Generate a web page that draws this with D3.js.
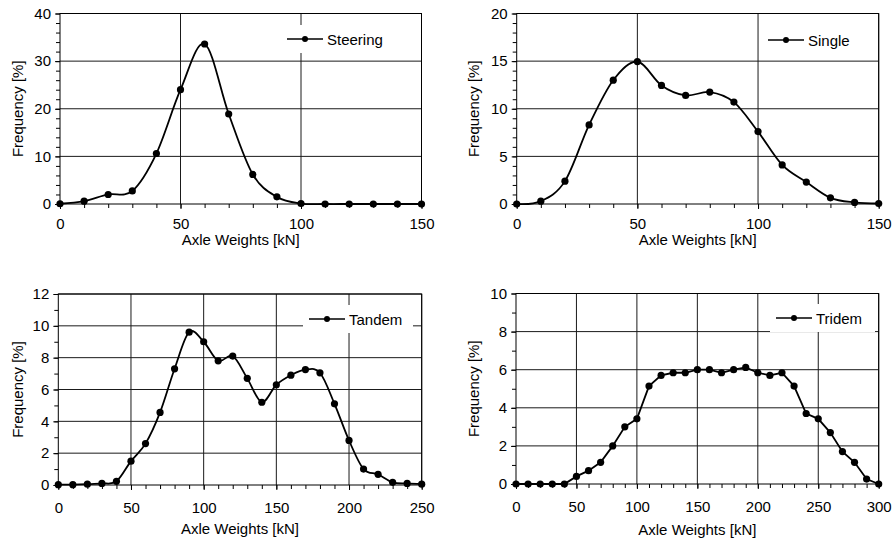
<!DOCTYPE html>
<html>
<head>
<meta charset="utf-8">
<script src="https://cdn.jsdelivr.net/npm/d3@7"></script>
<style>
  html, body { margin: 0; padding: 0; background: #fff; }
  svg { display: block; }
  text { font-family: "Liberation Sans", Arial, sans-serif; fill: #000; }
</style>
</head>
<body>
<div id="chart"></div>
<script>
/*---------- DATA ----------*/
// Axle weight classes [kN]
let weights150 = [0, 10, 20, 30, 40, 50, 60, 70, 80, 90, 100, 110, 120, 130, 140, 150];
let weights250 = [0, 10, 20, 30, 40, 50, 60, 70, 80, 90, 100, 110, 120, 130, 140, 150,
  160, 170, 180, 190, 200, 210, 220, 230, 240, 250];
let weights300 = [0, 10, 20, 30, 40, 50, 60, 70, 80, 90, 100, 110, 120, 130, 140, 150,
  160, 170, 180, 190, 200, 210, 220, 230, 240, 250, 260, 270, 280, 290, 300];

// Frequencies [%]
let steeringFreq = [0.05, 0.6, 2.0, 2.75, 10.6, 24.0, 33.6, 18.9, 6.2, 1.5, 0.1, 0, 0, 0, 0, 0];
let singleFreq = [0, 0.3, 2.4, 8.3, 13.0, 14.95, 12.45, 11.4, 11.75, 10.7, 7.6, 4.1, 2.3, 0.65, 0.17, 0.05];
let tandemFreq = [0.02, 0.02, 0.05, 0.1, 0.23, 1.5, 2.6, 4.56, 7.3, 9.6, 9.0, 7.8, 8.1, 6.7, 5.2,
  6.3, 6.9, 7.25, 7.05, 5.1, 2.8, 1.0, 0.67, 0.17, 0.1, 0.05];
let tridemFreq = [0, 0, 0, 0, 0, 0.4, 0.7, 1.14, 2.0, 3.0, 3.42, 5.14, 5.7, 5.84, 5.84, 6.0,
  6.0, 5.84, 6.0, 6.12, 5.84, 5.7, 5.84, 5.14, 3.7, 3.42, 2.7, 1.7, 1.14, 0.26, 0];

// Tick labels
let xTicks150 = [0, 50, 100, 150];
let xTicks250 = [0, 50, 100, 150, 200, 250];
let xTicks300 = [0, 50, 100, 150, 200, 250, 300];
let yTicksSteering = [0, 10, 20, 30, 40];
let yTicksSingle = [0, 5, 10, 15, 20];
let yTicksTandem = [0, 2, 4, 6, 8, 10, 12];
let yTicksTridem = [0, 2, 4, 6, 8, 10];

let seriesNames = ["Steering", "Single", "Tandem", "Tridem"];
let xTitle = "Axle Weights [kN]";
let yTitle = "Frequency [%]";

/*---------- SETUP ----------*/
const width = 892;
const height = 538;

let svg = d3
  .select("#chart")
  .append("svg")
  .attr("width", width)
  .attr("height", height);

/*---------- PLOTTING ----------*/
/**
 * Draw one frequency panel
 * @param {*} p Layout and data of the panel
 */
function drawPanel(p) {
  let x = d3.scaleLinear().domain([0, d3.max(p.xTicks)]).range([p.left, p.right]);
  let y = d3.scaleLinear().domain([0, d3.max(p.yTicks)]).range([p.bottom, p.top]);
  let g = svg.append("g");

  // Horizontal grid lines
  g.selectAll("line.hgrid")
    .data(p.yTicks.slice(1))
    .join("line")
    .attr("class", "hgrid")
    .attr("x1", p.left)
    .attr("x2", p.right)
    .attr("y1", (d) => y(d))
    .attr("y2", (d) => y(d))
    .attr("stroke", "#1a1a1a")
    .attr("stroke-width", 1);

  // Vertical grid lines
  g.selectAll("line.vgrid")
    .data(p.xTicks.slice(1))
    .join("line")
    .attr("class", "vgrid")
    .attr("x1", (d) => x(d))
    .attr("x2", (d) => x(d))
    .attr("y1", p.top)
    .attr("y2", p.bottom)
    .attr("stroke", "#1a1a1a")
    .attr("stroke-width", 1);

  // Minor ticks (outside)
  let yMinor = d3.range(0, d3.max(p.yTicks) + 1e-9, p.yMinor);
  let xMinor = d3.range(0, d3.max(p.xTicks) + 1e-9, 10);
  g.append("g")
    .attr("transform", `translate(${p.left},0)`)
    .call(d3.axisLeft(y).tickValues(yMinor).tickSize(4).tickSizeOuter(0).tickFormat(""))
    .call((a) => a.select(".domain").remove());
  g.append("g")
    .attr("transform", `translate(0,${p.bottom})`)
    .call(d3.axisBottom(x).tickValues(xMinor).tickSize(4).tickSizeOuter(0).tickFormat(""))
    .call((a) => a.select(".domain").remove());

  // Major ticks with labels
  let yAxis = g
    .append("g")
    .attr("transform", `translate(${p.left},0)`)
    .call(d3.axisLeft(y).tickValues(p.yTicks).tickSize(5).tickPadding(4).tickSizeOuter(0));
  yAxis.select(".domain").remove();
  yAxis.selectAll("text").attr("font-size", "15px").attr("font-family", null);

  let xAxis = g
    .append("g")
    .attr("transform", `translate(0,${p.bottom})`)
    .call(d3.axisBottom(x).tickValues(p.xTicks).tickSize(5).tickPadding(p.xPad).tickSizeOuter(0));
  xAxis.select(".domain").remove();
  xAxis.selectAll("text").attr("font-size", "15px").attr("font-family", null);

  // Legend box, drawn over the grid
  g.append("rect")
    .attr("x", p.legend.x0)
    .attr("y", p.legend.y - 14)
    .attr("width", p.legend.x1 - p.legend.x0)
    .attr("height", 28)
    .attr("fill", "#fff");

  // Frame
  g.append("rect")
    .attr("x", p.left)
    .attr("y", p.top)
    .attr("width", p.right - p.left)
    .attr("height", p.bottom - p.top)
    .attr("fill", "none")
    .attr("stroke", "#000")
    .attr("stroke-width", 1);

  // Series line
  let pts = p.xs.map((d, i) => [x(d), y(p.ys[i])]);
  let line = d3.line().curve(p.smooth ? d3.curveCardinal.tension(0) : d3.curveLinear);
  g.append("path")
    .attr("d", line(pts))
    .attr("fill", "none")
    .attr("stroke", "#000")
    .attr("stroke-width", 1.8);

  g.selectAll("circle.pt")
    .data(pts)
    .join("circle")
    .attr("class", "pt")
    .attr("cx", (d) => d[0])
    .attr("cy", (d) => d[1])
    .attr("r", 3.6)
    .attr("fill", "#000");

  // Legend entry
  g.append("line")
    .attr("x1", p.legend.lx)
    .attr("x2", p.legend.lx + 36)
    .attr("y1", p.legend.y)
    .attr("y2", p.legend.y)
    .attr("stroke", "#000")
    .attr("stroke-width", 1.6);
  g.append("circle")
    .attr("cx", p.legend.lx + 18)
    .attr("cy", p.legend.y)
    .attr("r", 3)
    .attr("fill", "#000");
  g.append("text")
    .attr("x", p.legend.lx + 40)
    .attr("y", p.legend.y + 5.5)
    .attr("font-size", "15px")
    .text(p.name);

  // Axis titles
  g.append("text")
    .attr("x", (p.left + p.right) / 2)
    .attr("y", p.xTitleY)
    .attr("text-anchor", "middle")
    .attr("font-size", "15px")
    .text(xTitle);

  g.append("text")
    .attr("transform", `translate(${p.yTitleX},${(p.top + p.bottom) / 2}) rotate(-90)`)
    .attr("text-anchor", "middle")
    .attr("font-size", "15px")
    .text(yTitle);
}

drawPanel({
  name: seriesNames[0], xs: weights150, ys: steeringFreq, smooth: true,
  xTicks: xTicks150, yTicks: yTicksSteering, yMinor: 2,
  left: 60, right: 421.5, top: 13.5, bottom: 204, xPad: 9,
  xTitleY: 245, yTitleX: 23,
  legend: { x0: 281, x1: 398, lx: 287, y: 39 },
});

drawPanel({
  name: seriesNames[1], xs: weights150, ys: singleFreq, smooth: true,
  xTicks: xTicks150, yTicks: yTicksSingle, yMinor: 1,
  left: 516.7, right: 878.7, top: 13.5, bottom: 204, xPad: 9,
  xTitleY: 245, yTitleX: 479,
  legend: { x0: 762, x1: 866, lx: 768, y: 40 },
});

drawPanel({
  name: seriesNames[2], xs: weights250, ys: tandemFreq, smooth: true,
  xTicks: xTicks250, yTicks: yTicksTandem, yMinor: 1,
  left: 58.3, right: 421.7, top: 294, bottom: 485, xPad: 12,
  xTitleY: 534, yTitleX: 23,
  legend: { x0: 303, x1: 413, lx: 309, y: 319 },
});

drawPanel({
  name: seriesNames[3], xs: weights300, ys: tridemFreq, smooth: false,
  xTicks: xTicks300, yTicks: yTicksTridem, yMinor: 1,
  left: 516, right: 878.7, top: 293.5, bottom: 484, xPad: 12,
  xTitleY: 535, yTitleX: 479,
  legend: { x0: 770, x1: 875, lx: 776, y: 318 },
});
</script>
</body>
</html>
